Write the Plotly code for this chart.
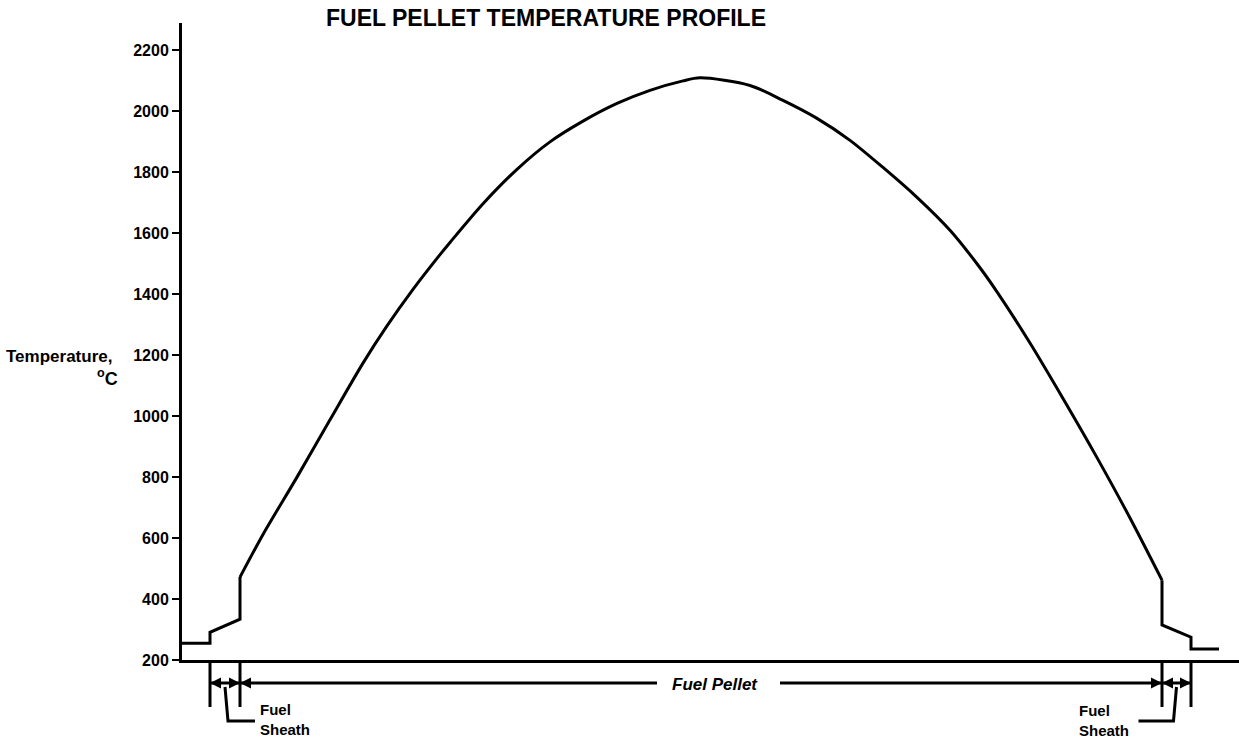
import plotly.graph_objects as go

# ---- data (position across pin, arbitrary units; temperature, deg C)
# coolant / sheath / gap steps on the left
left_pos = [0, 28, 28, 58, 58]
left_temp = [255, 255, 291, 334, 472]
# parabolic profile inside the fuel pellet
pellet_pos = [58, 81, 115, 148, 181, 205, 231, 258, 268,
              301, 335, 368, 401, 435, 468, 501, 518,
              568, 601, 635, 668, 701, 735, 768, 795,
              815, 848, 881, 915, 948, 980]
pellet_temp = [472, 612, 800, 988, 1174, 1296, 1416, 1530, 1570,
               1697, 1810, 1900, 1968, 2026, 2069, 2100, 2110,
               2085, 2036, 1977, 1905, 1816, 1718, 1610, 1500,
               1408, 1240, 1058, 864, 666, 462]
# gap / sheath / coolant steps on the right
right_pos = [980, 980, 1009, 1009, 1037]
right_temp = [462, 315, 275, 236, 236]

sheath_left = [28, 58]
fuel_pellet = [58, 980]
sheath_right = [980, 1009]

y_ticks = [200, 400, 600, 800, 1000, 1200, 1400, 1600, 1800, 2000, 2200]

title_text = "FUEL PELLET TEMPERATURE PROFILE"
y_label = "Temperature,"
y_unit = "<sup>o</sup>C"
pellet_label = "<i>Fuel Pellet</i>"
sheath_label = "Fuel<br>Sheath"

# ---- layout geometry
W, H = 1239, 739
ML, MR, MT, MB = 182, 0, 23, 79
PH = H - MT - MB
Y_RANGE = [200, 2290]


def py(px):
    """pixel row -> paper y"""
    return (H - MB - px) / PH


def pxx(px):
    """pixel column -> paper x"""
    return (px - ML) / (W - ML - MR)


FONT = "Liberation Sans"
LINE = dict(color="black", width=3)

fig = go.Figure()
fig.add_trace(go.Scatter(x=left_pos, y=left_temp, mode="lines", line=LINE, hoverinfo="skip"))
fig.add_trace(go.Scatter(x=pellet_pos, y=pellet_temp, mode="lines",
                         line=dict(color="black", width=3, shape="spline", smoothing=0.8),
                         hoverinfo="skip"))
fig.add_trace(go.Scatter(x=right_pos, y=right_temp, mode="lines", line=LINE, hoverinfo="skip"))

shapes = []
annotations = []

dim_row = 683  # pixel row of dimension lines

# extension lines below the axis
for xb in [sheath_left[0], sheath_left[1], sheath_right[0], sheath_right[1]]:
    shapes.append(dict(type="line", xref="x", yref="paper", x0=xb, x1=xb,
                       y0=py(662), y1=py(707), line=LINE))

# dimension lines (pellet line broken around its label)
label_x = 533
gap = [label_x - 58, label_x + 65]
for seg in [sheath_left, [fuel_pellet[0], gap[0]], [gap[1], fuel_pellet[1]], sheath_right]:
    shapes.append(dict(type="line", xref="x", yref="paper", x0=seg[0], x1=seg[1],
                       y0=py(dim_row), y1=py(dim_row), line=LINE))


# arrowheads pointing at extension lines
def arrow(x, ax):
    annotations.append(dict(x=x, y=py(dim_row), xref="x", yref="paper", text="",
                            showarrow=True, ax=ax, ay=0, axref="pixel", ayref="pixel",
                            arrowhead=2, arrowsize=1.1, arrowwidth=2, arrowcolor="black",
                            standoff=0))


arrow(sheath_left[0], 13)
arrow(sheath_left[1], -13)
arrow(fuel_pellet[0], 24)
arrow(fuel_pellet[1], -24)
arrow(sheath_right[0], 13)
arrow(sheath_right[1], -13)

# leader lines to "Fuel Sheath" labels
lm = (sheath_left[0] + sheath_left[1]) / 2
rm = (sheath_right[0] + sheath_right[1]) / 2
shapes.append(dict(type="path", xref="x", yref="paper",
                   path=f"M {lm},{py(687)} L {lm + 3},{py(721)} L {lm + 30},{py(721)}",
                   line=LINE))
shapes.append(dict(type="path", xref="x", yref="paper",
                   path=f"M {rm},{py(687)} L {rm - 3},{py(721)} L {rm - 38},{py(721)}",
                   line=LINE))

# text
annotations.append(dict(x=pxx(546), y=py(18), xref="paper", yref="paper", text=title_text,
                        showarrow=False, xanchor="center", yanchor="middle",
                        font=dict(family=FONT, size=23, color="black", weight="bold")))
annotations.append(dict(x=pxx(4), y=py(356), xref="paper", yref="paper", text=y_label,
                        showarrow=False, xanchor="left", yanchor="middle",
                        font=dict(family=FONT, size=17, color="black", weight="bold")))
annotations.append(dict(x=pxx(95), y=py(377), xref="paper", yref="paper", text=y_unit,
                        showarrow=False, xanchor="left", yanchor="middle",
                        font=dict(family=FONT, size=18, color="black", weight="bold")))
annotations.append(dict(x=label_x, y=py(684), xref="x", yref="paper", text=pellet_label,
                        showarrow=False, xanchor="center", yanchor="middle",
                        font=dict(family=FONT, size=17, color="black", weight="bold")))
annotations.append(dict(x=lm + 33, y=py(699), xref="x", yref="paper", text=sheath_label,
                        showarrow=False, xanchor="left", yanchor="top", align="left",
                        font=dict(family=FONT, size=15, color="black", weight="bold")))
annotations.append(dict(x=rm - 100, y=py(700), xref="x", yref="paper", text=sheath_label,
                        showarrow=False, xanchor="left", yanchor="top", align="left",
                        font=dict(family=FONT, size=15, color="black", weight="bold")))

fig.update_layout(
    width=W, height=H,
    margin=dict(l=ML, r=MR, t=MT, b=MB, pad=0),
    paper_bgcolor="white", plot_bgcolor="white",
    showlegend=False,
    shapes=shapes, annotations=annotations,
)
fig.update_xaxes(range=[0, W - ML - MR], showline=True, linecolor="black", linewidth=3,
                 showgrid=False, zeroline=False, showticklabels=False, ticks="")
fig.update_yaxes(range=Y_RANGE, showline=True, linecolor="black", linewidth=3,
                 showgrid=False, zeroline=False, tickvals=y_ticks, ticks="outside",
                 ticklen=7, tickwidth=2, tickcolor="black",
                 tickfont=dict(family=FONT, size=16, color="black", weight="bold"))

fig.write_html("out.html", config={"displayModeBar": False},
               post_script="document.body.style.margin='0';")
